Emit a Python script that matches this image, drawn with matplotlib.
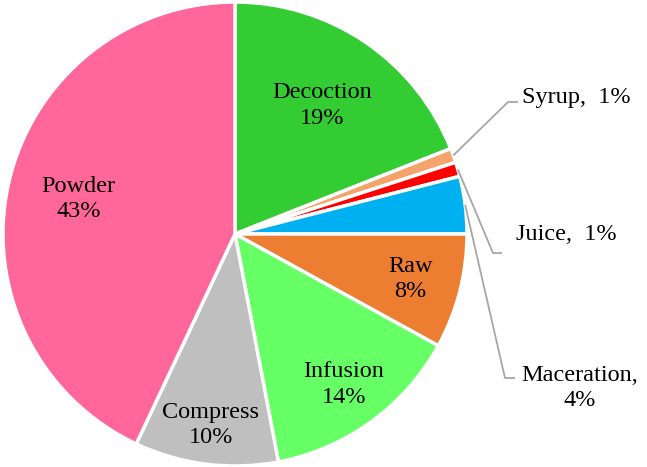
import numpy as np
import matplotlib
matplotlib.use('Agg')
import matplotlib.pyplot as plt

# data
labels = ['Decoction', 'Syrup', 'Juice', 'Maceration', 'Raw', 'Infusion', 'Compress', 'Powder']
values = [19, 1, 1, 4, 8, 14, 10, 43]
colors = ['#33cc33', '#f4a46a', '#ff0000', '#00b0f0', '#ed7d31', '#66ff66', '#bfbfbf', '#ff6699']

plt.rcParams['font.family'] = ['Liberation Serif', 'DejaVu Serif']
FS = 17.5
LS = 1.3

W, H = 647, 467
R = 232.0  # pie radius in px
cx, cy = 235, 234

fig = plt.figure(figsize=(W / 100, H / 100), dpi=100)
ax = fig.add_axes([0, 0, 1, 1])


def px(x, y):
    return (x - cx) / R, (cy - y) / R


wedges, _ = ax.pie(values, colors=colors, startangle=90, counterclock=False, radius=1.0,
                   wedgeprops=dict(edgecolor='white', linewidth=2.5))

ax.set_xlim(-cx / R, (W - cx) / R)
ax.set_ylim(-(H - cy) / R, cy / R)
ax.set_aspect('equal')
ax.axis('off')

# mid angles of each wedge (degrees)
cum = np.cumsum([0] + values)
mids = [90 - 3.6 * (cum[i] + values[i] / 2) for i in range(len(values))]

# labels inside
inside = {'Decoction': 0.67, 'Raw': 0.78, 'Infusion': 0.8, 'Compress': 0.83, 'Powder': 0.69}
for i, lab in enumerate(labels):
    if lab in inside:
        r = inside[lab]
        a = np.deg2rad(mids[i])
        ax.text(r * np.cos(a), r * np.sin(a), f'{lab}\n{values[i]}%', ha='center', va='center',
                fontsize=FS, linespacing=LS)

# outside labels with leader lines
outside = {
    'Syrup': dict(elbow=(508, 102), end=(518, 102), text=(522, 97), fmt='{},  {}%', ha='left'),
    'Juice': dict(elbow=(493, 253), end=(502, 253), text=(516, 234), fmt='{},  {}%', ha='left'),
    'Maceration': dict(elbow=(505, 378), end=(515, 378), text=(580, 388), fmt='{},\n{}%', ha='center'),
}
for i, lab in enumerate(labels):
    if lab in outside:
        o = outside[lab]
        a = np.deg2rad(mids[i])
        x0, y0 = np.cos(a), np.sin(a)
        x1, y1 = px(*o['elbow'])
        x2, y2 = px(*o['end'])
        ax.plot([x0, x1, x2], [y0, y1, y2], color='#a6a6a6', lw=1.3, solid_capstyle='butt')
        tx, ty = px(*o['text'])
        ax.text(tx, ty, o['fmt'].format(lab, values[i]), ha=o['ha'], va='center',
                fontsize=FS, linespacing=LS)

fig.savefig('out.png', dpi=100, facecolor='white')
